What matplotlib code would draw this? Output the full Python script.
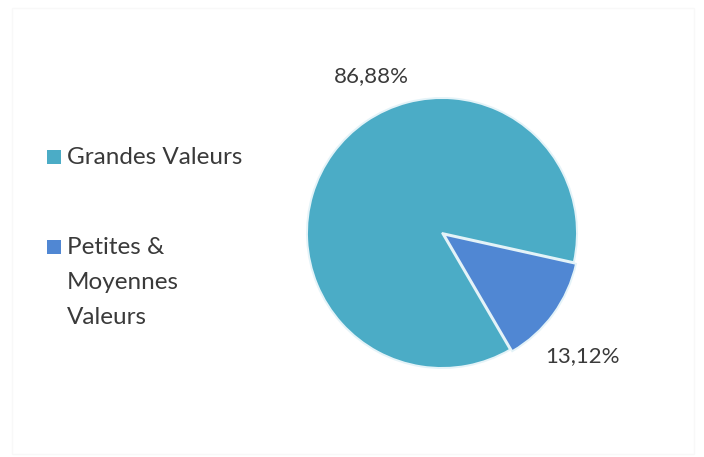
import matplotlib
matplotlib.use("Agg")
import matplotlib.pyplot as plt
from matplotlib.patches import Rectangle

plt.rcParams['font.family'] = ['Lato', 'DejaVu Sans']

categories = ["Grandes Valeurs", "Petites &\nMoyennes\nValeurs"]
shares = [86.88, 13.12]
colors = ["#4BACC6", "#5087D3"]
text_color = "#3a3a3a"

W, H = 704, 457
fig = plt.figure(figsize=(W / 100, H / 100), dpi=100)
fig.patch.set_facecolor("white")

# faint outer frame
fig.add_artist(Rectangle((12 / W, 3 / H), 682 / W, 446 / H, transform=fig.transFigure,
                         fill=False, edgecolor="#f8f8f8", linewidth=1.0))

# pie area: radius 135 px centred at (442, 233) from the top-left
cx, cy, r = 442, 233, 135
ax = fig.add_axes([(cx - r) / W, (H - cy - r) / H, 2 * r / W, 2 * r / H])
wedges, _ = ax.pie(shares, colors=colors, startangle=-12.5, counterclock=True,
                   explode=[0, 0.02],
                   wedgeprops=dict(edgecolor="#e4f3f8", linewidth=1.4))
ax.set_xlim(-1, 1)
ax.set_ylim(-1, 1)
ax.set_aspect("equal")
ax.set_axis_off()

# percentage labels
label_pos = [(-0.52, 1.16), (1.04, -0.91)]
for v, (x, y) in zip(shares, label_pos):
    ax.text(x, y, f"{v:.2f}%".replace(".", ","), ha="center", va="center",
            fontsize=16, color=text_color, clip_on=False)

# legend on the left
legend_y = [157, 247]
line_step = 35.5
for cat, col, y in zip(categories, colors, legend_y):
    fig.add_artist(Rectangle((47 / W, (H - y - 7) / H), 14 / W, 14 / H,
                             transform=fig.transFigure, facecolor=col, edgecolor="none"))
    for i, line in enumerate(cat.split("\n")):
        fig.text(67 / W, (H - (y + i * line_step)) / H, line, ha="left", va="center",
                 fontsize=17.5, color=text_color)

fig.savefig("out.png", dpi=100, facecolor="white")
